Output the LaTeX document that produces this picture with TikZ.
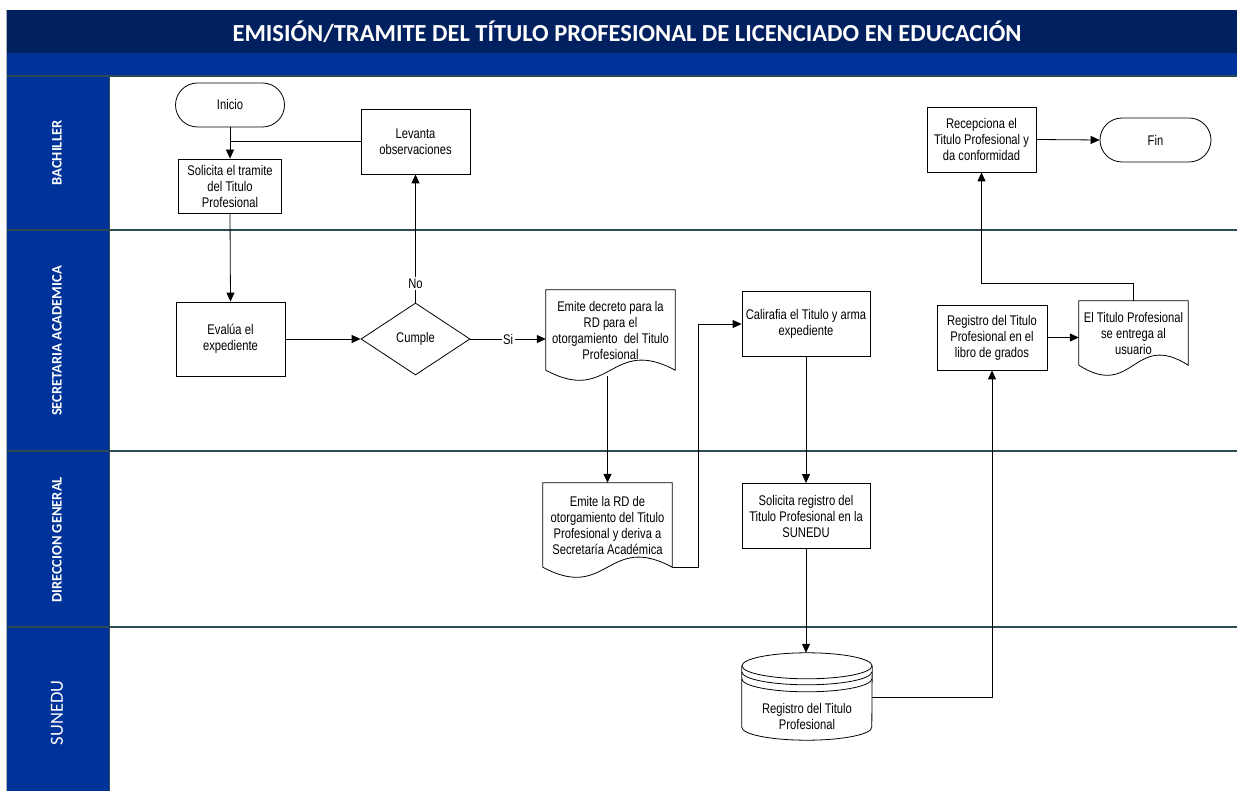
\documentclass[tikz,border=0pt]{standalone}
\usepackage{fontspec}
\setmainfont{Liberation Sans}[FakeStretch=0.8]
\newfontfamily\titlefont{Carlito}
\usetikzlibrary{arrows.meta,shapes.geometric,calc}
\definecolor{navy}{HTML}{002060}
\definecolor{laneblue}{HTML}{003399}
\definecolor{sepline}{HTML}{2E4A55}
\newcommand\mydocshape[1]{%
  \draw[line width=0.8pt] (#1.south west) -- (#1.north west) -- (#1.north east) -- (#1.south east)
    .. controls ($(#1.south)+(0,-35)$) and ($(#1.south)+(0,35)$) .. (#1.south west);}
\begin{document}
\begin{tikzpicture}[x=1pt,y=-1pt,
  every node/.style={font=\fontsize{14}{16}\selectfont, align=center, inner sep=1pt},
  box/.style={draw, line width=0.8pt},
  term/.style={draw, line width=0.8pt, rounded corners=22pt, minimum height=44pt},
  decis/.style={diamond, draw, line width=0.8pt, aspect=1.5, inner sep=0pt},
  docnode/.style={draw=none},
  arr/.style={line width=0.8pt, -{Triangle[length=9pt,width=8pt]}},
  conn/.style={line width=0.8pt},
  lanelabel/.style={rotate=90, text=white, font=\titlefont\bfseries\fontsize{14.5}{16}\selectfont},
  lanesep/.style={draw=sepline, line width=1.5pt}]
\useasboundingbox (0,0) rectangle (1237,791);
% header and lanes
\fill[navy] (7,10) rectangle (1237,53);
\fill[laneblue] (7,53) rectangle (1237,76);
\fill[laneblue] (7,76) rectangle (109,791);
\draw[gray!60, line width=0.8pt] (6,10) -- (6,791);
\draw[sepline, line width=0.8pt] (109,76) -- (109,791);
\draw[lanesep] (7,76) -- (1237,76);
\draw[lanesep] (7,230) -- (1237,230);
\draw[lanesep] (7,451) -- (1237,451);
\draw[lanesep] (7,627) -- (1237,627);
\node[text=white, font=\titlefont\bfseries\fontsize{24.5}{28}\selectfont] (title) at (627,32) {EMISIÓN/TRAMITE DEL TÍTULO PROFESIONAL DE LICENCIADO EN EDUCACIÓN};
\node[lanelabel] (l1) at (57,153) {BACHILLER};
\node[lanelabel] (l2) at (57,341) {SECRETARIA ACADEMICA};
\node[lanelabel] (l3) at (57,540) {DIRECCION GENERAL};
\node[lanelabel, font=\titlefont\fontsize{18.5}{20}\selectfont] (l4) at (57,713) {SUNEDU};
% nodes
\node[term, minimum width=109pt] (ini) at (230,105) {Inicio};
\node[box, minimum width=103pt, minimum height=54pt] (sol) at (230,186) {Solicita el tramite\\del Titulo\\Profesional};
\node[box, minimum width=109pt, minimum height=65pt] (lev) at (415.5,141.5) {Levanta\\observaciones};
\node[box, minimum width=109pt, minimum height=74pt] (eva) at (230.5,339) {Evalúa el\\expediente};
\node[decis, minimum width=109pt, minimum height=72pt] (cum) at (415.5,339) {Cumple};
\node[docnode, minimum width=129pt, minimum height=80pt] (dec) at (610.5,330) {Emite decreto para la\\RD para el\\otorgamiento\ \ del Titulo\\Profesional};
\mydocshape{dec}
\node[docnode, minimum width=129pt, minimum height=84pt] (rd) at (607.5,525) {Emite la RD de\\otorgamiento del Titulo\\Profesional y deriva a\\Secretaría Académica};
\mydocshape{rd}
\node[box, minimum width=128pt, minimum height=65pt] (cal) at (806,324) {Calirafia el Titulo y arma\\expediente};
\node[box, minimum width=128pt, minimum height=65pt] (sreg) at (806,516) {Solicita registro del\\Titulo Profesional en la\\SUNEDU};
\node[draw=none, minimum width=130pt, minimum height=87pt] (db) at (807,696.5) {\rule{0pt}{50pt}Registro del Titulo\\Profesional};
\draw[line width=0.8pt] ($(db.north)+(0,13)$) ellipse [x radius=65pt, y radius=13pt];
\draw[line width=0.8pt] ($(db.north west)+(0,13)$) -- ($(db.south west)+(0,-13)$)
   arc[start angle=180, end angle=360, x radius=65pt, y radius=13pt] -- ($(db.north east)+(0,13)$);
\draw[line width=0.8pt] ($(db.north west)+(0,19)$) arc[start angle=180, end angle=360, x radius=65pt, y radius=13pt];
\draw[line width=0.8pt] ($(db.north west)+(0,26)$) arc[start angle=180, end angle=360, x radius=65pt, y radius=13pt];
\node[box, minimum width=110pt, minimum height=65pt] (reg) at (992,337.5) {Registro del Titulo\\Profesional en el\\libro de grados};
\node[docnode, minimum width=109pt, minimum height=64pt] (ent) at (1133.5,333) {El Titulo Profesional\\se entrega al\\usuario};
\mydocshape{ent}
\node[box, minimum width=109pt, minimum height=65pt] (rec) at (981.5,139.5) {Recepciona el\\Titulo Profesional y\\da conformidad};
\node[term, minimum width=111pt] (fin) at (1155.5,140) {Fin};
% connectors
\draw[arr] (ini.south) -- (sol.north);
\draw[conn] (lev.west) -- (lev.west -| ini.south);
\draw[arr] (sol.south) -- (eva.north);
\draw[arr] (eva.east) -- (cum.west);
\draw[arr] (cum.north) -- node[pos=0.147, fill=white, inner sep=1.5pt] (no) {No} (lev.south);
\draw[arr] (cum.east) -- node[pos=0.5, fill=white, inner sep=1.5pt] (si) {Si} (cum.east -| dec.west);
\draw[arr] ([xshift=-3pt,yshift=-6pt]dec.south) -- ([xshift=-3pt]dec.south |- rd.north);
\draw[arr] (rd.south east) -- ++(26,0) |- (cal.west);
\draw[arr] (cal.south) -- (sreg.north);
\draw[arr] (sreg.south) -- (db.north -| sreg.south);
\draw[arr] ($(db.east)+(0,0.5)$) -| (reg.south);
\draw[arr] (reg.east) -- (reg.east -| ent.west);
\draw[arr] (ent.north) -- ++(0,-17) -| (rec.south);
\draw[arr] (rec.east) -- (fin.west);
\end{tikzpicture}
\end{document}
